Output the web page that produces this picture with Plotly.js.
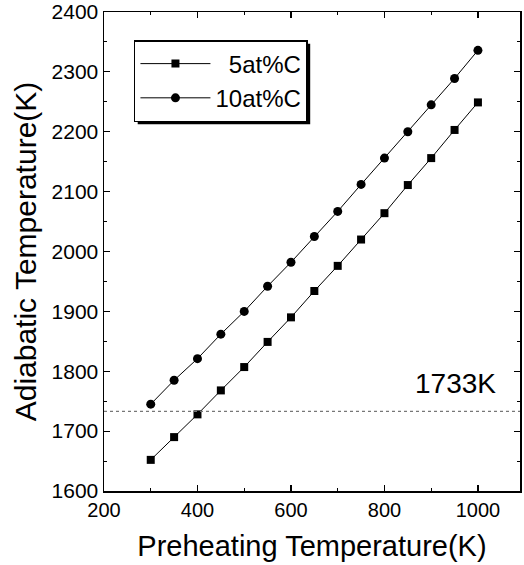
<!DOCTYPE html>
<html>
<head>
<meta charset="utf-8">
<script src="https://cdn.plot.ly/plotly-3.0.1.min.js"></script>
<style>html,body{margin:0;padding:0;background:#fff;}#chart{width:524px;height:565px;}</style>
</head>
<body>
<div id="chart"></div>
<script>
const preheat = [300, 350, 400, 450, 500, 550, 600, 650, 700, 750, 800, 850, 900, 950, 1000];
const c5 = [1652, 1690, 1728, 1768, 1807, 1849, 1890, 1934, 1976, 2020, 2064, 2111, 2156, 2203, 2249];
const c10 = [1745, 1785, 1821, 1862, 1900, 1942, 1982, 2025, 2067, 2112, 2156, 2200, 2245, 2289, 2336];
const seriesNames = ["\u00a0\u00a05at%C", "10at%C"];
const thresholdValue = 1733;
const thresholdLabel = "1733K";

const FONT = "Liberation Sans, Arial, Helvetica, sans-serif";

const traces = [
  {
    x: preheat, y: c5, name: seriesNames[0], type: "scatter", mode: "lines+markers",
    line: {color: "#000", width: 1},
    marker: {symbol: "square", size: 8, color: "#000"}
  },
  {
    x: preheat, y: c10, name: seriesNames[1], type: "scatter", mode: "lines+markers",
    line: {color: "#000", width: 1},
    marker: {symbol: "circle", size: 9, color: "#000"}
  }
];

const axisCommon = {
  showgrid: false, zeroline: false, showline: true, linecolor: "#000", linewidth: 1.5,
  mirror: "ticks", ticks: "inside", ticklen: 6, tickwidth: 1.2, tickcolor: "#000"
};

const layout = {
  width: 524, height: 565,
  margin: {l: 104, r: 4, t: 12, b: 74},
  paper_bgcolor: "#fff", plot_bgcolor: "#fff",
  font: {family: FONT, color: "#000"},
  showlegend: true,
  xaxis: Object.assign({}, axisCommon, {
    range: [200, 1090], dtick: 200, tick0: 200,
    tickfont: {family: FONT, size: 20, color: "#000"},
    minor: {dtick: 100, ticks: "inside", ticklen: 3, tickcolor: "#000", tickwidth: 1},
    title: {text: "Preheating Temperature(K)", font: {family: FONT, size: 29, color: "#000"}, standoff: 16}
  }),
  yaxis: Object.assign({}, axisCommon, {
    range: [1600, 2400], dtick: 100, tick0: 1600,
    tickfont: {family: FONT, size: 21, color: "#000"},
    minor: {dtick: 50, ticks: "inside", ticklen: 3, tickcolor: "#000", tickwidth: 1},
    title: {text: "Adiabatic Temperature(K)", font: {family: FONT, size: 30, color: "#000"}, standoff: 6}
  }),
  legend: {
    x: 0.072, y: 0.9415, xanchor: "left", yanchor: "top",
    bgcolor: "#fff", bordercolor: "#000", borderwidth: 1.5,
    font: {family: FONT, size: 24, color: "#000"},
    itemwidth: 70, tracegroupgap: 0
  },
  shapes: [
    {type: "line", xref: "paper", x0: 0, x1: 1, yref: "y", y0: thresholdValue, y1: thresholdValue,
     line: {color: "#777", width: 1.2, dash: "dot"}}
  ],
  annotations: [
    {x: 953, y: 1780, xref: "x", yref: "y", text: thresholdLabel, showarrow: false,
     font: {family: FONT, size: 28, color: "#000"}}
  ]
};

Plotly.newPlot("chart", traces, layout, {displayModeBar: false, staticPlot: true}).then(function(gd){
  const lg = gd.querySelector(".legend");
  if (lg) {
    const r = lg.getBoundingClientRect();
    const fl = gd._fullLayout;
    const ps = fl._size;
    const x0 = (r.left + 3 - ps.l) / ps.w, x1 = (r.right + 3 - ps.l) / ps.w;
    const y1 = 1 - (r.top + 3 - ps.t) / ps.h, y0 = 1 - (r.bottom + 3 - ps.t) / ps.h;
    const shapes = fl.shapes.map(s => s._input);
    shapes.push({type: "rect", xref: "paper", yref: "paper", x0: x0, x1: x1, y0: y0, y1: y1,
                 fillcolor: "#000", line: {width: 0}, layer: "above"});
    Plotly.relayout(gd, {shapes: shapes});
  }
});
</script>
</body>
</html>
